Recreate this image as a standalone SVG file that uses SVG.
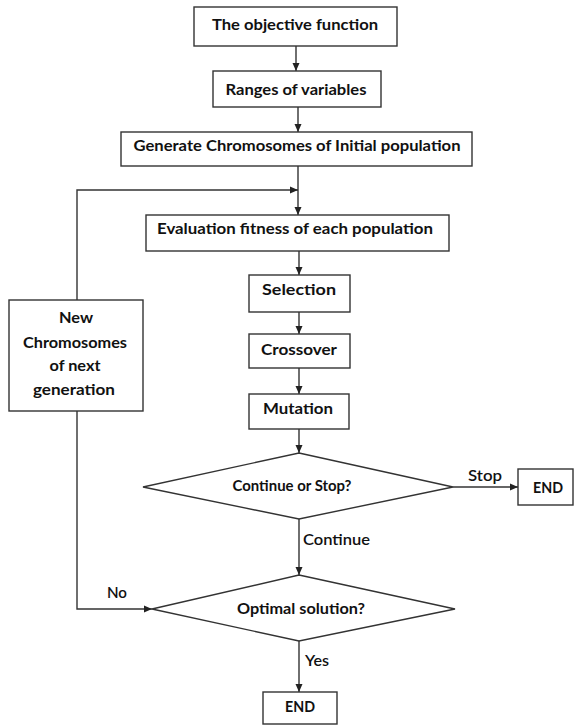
<svg xmlns="http://www.w3.org/2000/svg" width="574" height="725" viewBox="0 0 574 725">
<defs>
<marker id="ah" markerWidth="8" markerHeight="8" refX="8" refY="4" orient="auto" markerUnits="userSpaceOnUse">
<path d="M0,0.5 L8,4 L0,7.5 Z" fill="#222"/>
</marker>
<style>
.box{fill:#fff;stroke:#333;stroke-width:1.4}
.ln{fill:none;stroke:#333;stroke-width:1.4}
.t{font-family:Lato,"Open Sans","Liberation Sans",sans-serif;font-size:16px;font-weight:bold;fill:#111;text-anchor:middle}
.l{font-family:Lato,"Open Sans","Liberation Sans",sans-serif;font-size:16px;font-weight:600;fill:#111}
</style>
</defs>
<rect width="574" height="725" fill="#fff"/>
<g id="connectors">
<line class="ln" x1="296" y1="46" x2="296" y2="71" marker-end="url(#ah)"/>
<line class="ln" x1="298" y1="107" x2="298" y2="132" marker-end="url(#ah)"/>
<line class="ln" x1="298" y1="166" x2="298" y2="215" marker-end="url(#ah)"/>
<polyline class="ln" points="77,300 77,190 298,190" marker-end="url(#ah)"/>
<line class="ln" x1="299" y1="251" x2="299" y2="275" marker-end="url(#ah)"/>
<line class="ln" x1="299" y1="312" x2="299" y2="334" marker-end="url(#ah)"/>
<line class="ln" x1="299" y1="368" x2="299" y2="394" marker-end="url(#ah)"/>
<line class="ln" x1="299" y1="429" x2="299" y2="453" marker-end="url(#ah)"/>
<line class="ln" x1="453" y1="487" x2="518" y2="487" marker-end="url(#ah)"/>
<line class="ln" x1="299" y1="519" x2="299" y2="575" marker-end="url(#ah)"/>
<polyline class="ln" points="77,411 77,609 152,609" marker-end="url(#ah)"/>
<line class="ln" x1="299" y1="641" x2="299" y2="692" marker-end="url(#ah)"/>
<text class="l" x="468" y="481" textLength="34" lengthAdjust="spacingAndGlyphs">Stop</text>
<text class="l" x="303" y="545" textLength="67" lengthAdjust="spacingAndGlyphs">Continue</text>
<text class="l" x="107" y="598" textLength="20" lengthAdjust="spacingAndGlyphs">No</text>
<text class="l" x="305" y="666" textLength="24" lengthAdjust="spacingAndGlyphs">Yes</text>
</g>
<g id="objective">
<rect class="box" x="194" y="7" width="203" height="39"/>
<text class="t" x="295" y="30" textLength="166" lengthAdjust="spacingAndGlyphs">The objective function</text>
</g>
<g id="ranges">
<rect class="box" x="213" y="71" width="168" height="36"/>
<text class="t" x="296" y="95" textLength="141" lengthAdjust="spacingAndGlyphs">Ranges of variables</text>
</g>
<g id="generate">
<rect class="box" x="121" y="132" width="351" height="34"/>
<text class="t" x="297" y="151" textLength="327" lengthAdjust="spacingAndGlyphs">Generate Chromosomes of Initial population</text>
</g>
<g id="evaluation">
<rect class="box" x="146" y="215" width="303" height="36"/>
<text class="t" x="295" y="234" textLength="276" lengthAdjust="spacingAndGlyphs">Evaluation fitness of each population</text>
</g>
<g id="selection">
<rect class="box" x="249" y="275" width="101" height="37"/>
<text class="t" x="299" y="295" textLength="74" lengthAdjust="spacingAndGlyphs">Selection</text>
</g>
<g id="crossover">
<rect class="box" x="249" y="334" width="101" height="34"/>
<text class="t" x="299" y="355" textLength="76" lengthAdjust="spacingAndGlyphs">Crossover</text>
</g>
<g id="mutation">
<rect class="box" x="249" y="394" width="100" height="35"/>
<text class="t" x="298" y="414" textLength="70" lengthAdjust="spacingAndGlyphs">Mutation</text>
</g>
<g id="newchrom">
<rect class="box" x="9" y="300" width="134" height="111"/>
<text class="t" x="76" y="323" textLength="34" lengthAdjust="spacingAndGlyphs">New</text>
<text class="t" x="75" y="348" textLength="104" lengthAdjust="spacingAndGlyphs">Chromosomes</text>
<text class="t" x="75" y="371" textLength="51" lengthAdjust="spacingAndGlyphs">of next</text>
<text class="t" x="74" y="395" textLength="82" lengthAdjust="spacingAndGlyphs">generation</text>
</g>
<g id="continue-stop">
<polygon class="box" points="299,453 453,487 299,519 143,487"/>
<text class="t" x="292" y="491" textLength="119" lengthAdjust="spacingAndGlyphs">Continue or Stop?</text>
</g>
<g id="end-right">
<rect class="box" x="518" y="469" width="55" height="36"/>
<text class="t" x="548" y="493" textLength="30" lengthAdjust="spacingAndGlyphs">END</text>
</g>
<g id="optimal">
<polygon class="box" points="299,575 455,609 299,641 152,609"/>
<text class="t" x="301" y="614" textLength="128" lengthAdjust="spacingAndGlyphs">Optimal solution?</text>
</g>
<g id="end-bottom">
<rect class="box" x="263" y="692" width="74" height="32"/>
<text class="t" x="300" y="712" textLength="30" lengthAdjust="spacingAndGlyphs">END</text>
</g>
</svg>
